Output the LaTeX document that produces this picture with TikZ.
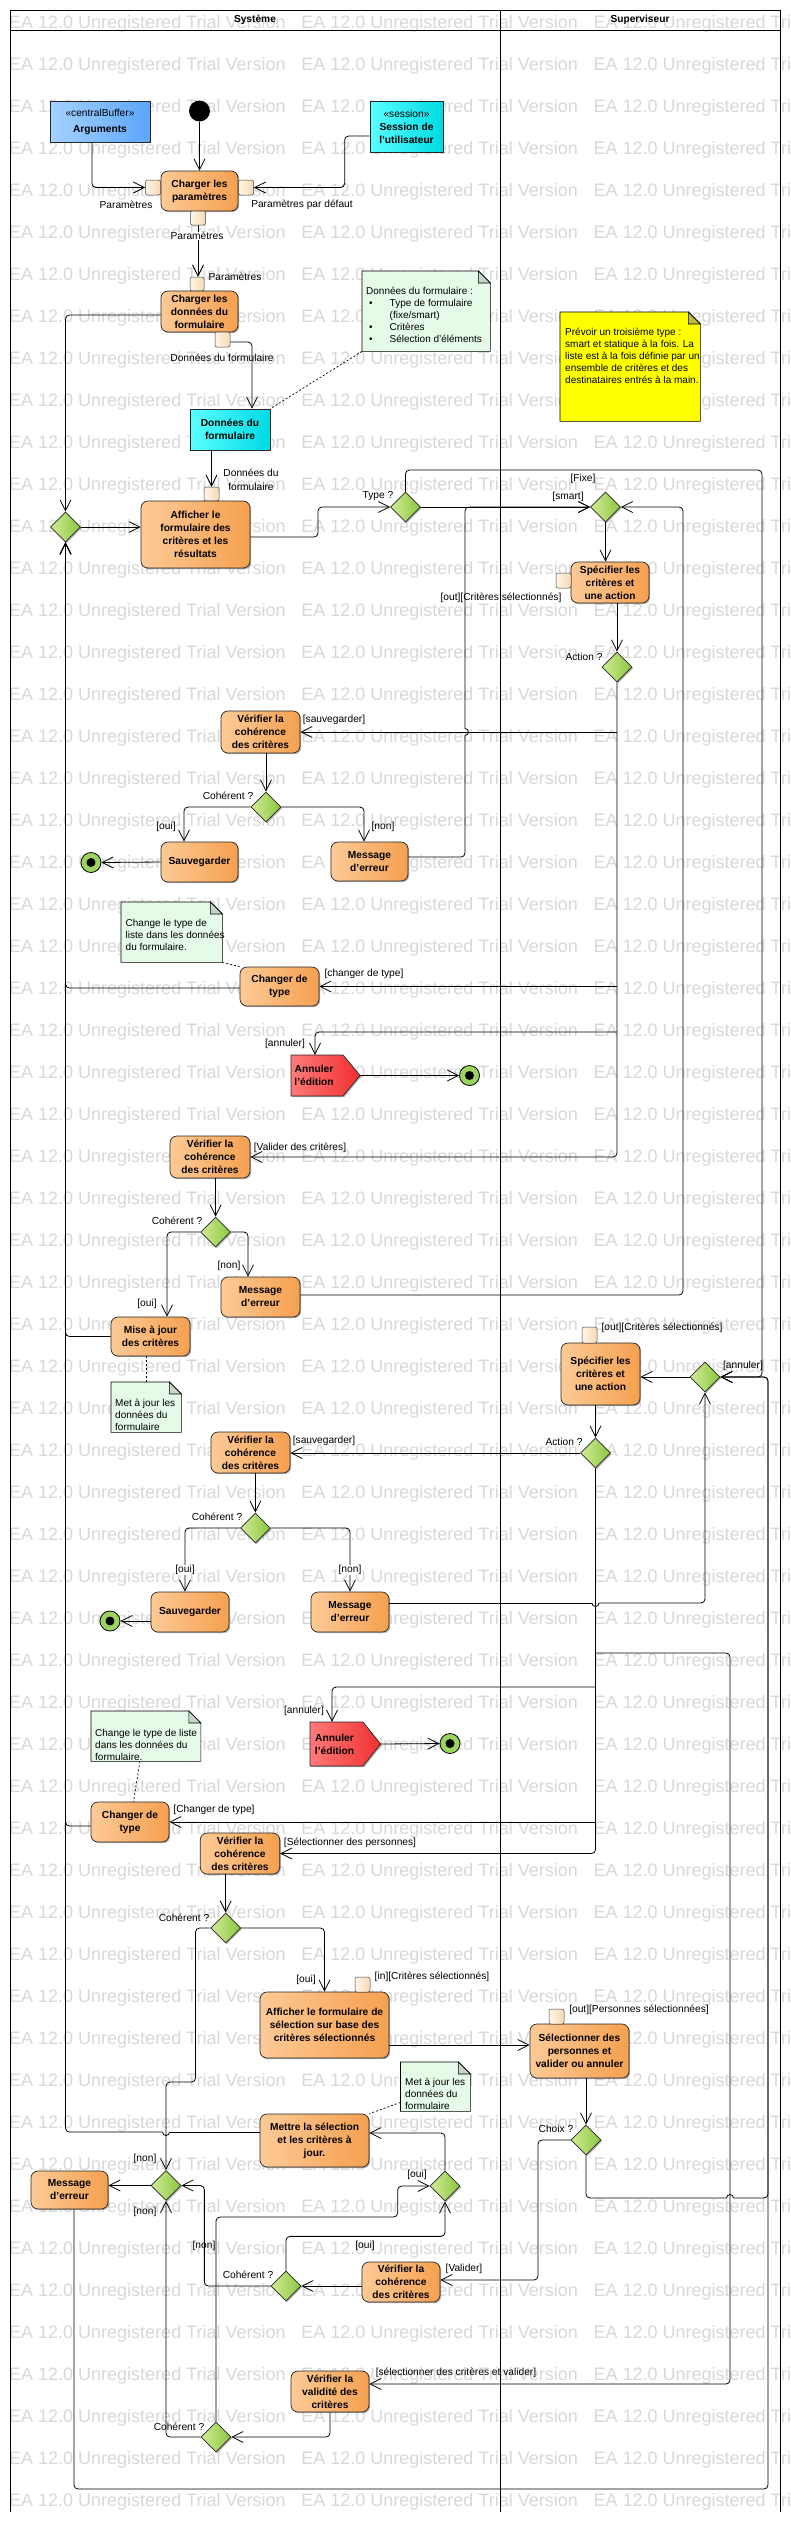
\documentclass[tikz,border=0pt]{standalone}
\usepackage{fontspec}
\setmainfont{Liberation Sans}
\usetikzlibrary{arrows.meta,shapes.geometric,calc,shadows}
\definecolor{actL}{RGB}{253,202,150}
\definecolor{actR}{RGB}{245,160,80}
\definecolor{pinL}{RGB}{255,246,230}
\definecolor{pinR}{RGB}{246,218,180}
\definecolor{diaL}{RGB}{208,236,150}
\definecolor{diaR}{RGB}{140,198,63}
\definecolor{finG}{RGB}{155,211,95}
\definecolor{annL}{RGB}{255,122,122}
\definecolor{annR}{RGB}{240,48,48}
\definecolor{cyL}{RGB}{90,255,255}
\definecolor{cyR}{RGB}{0,218,228}
\definecolor{blL}{RGB}{165,210,255}
\definecolor{blR}{RGB}{92,166,250}
\definecolor{noteG}{RGB}{230,250,232}
\definecolor{foldG}{RGB}{196,214,198}
\definecolor{noteY}{RGB}{255,255,0}
\definecolor{foldY}{RGB}{190,190,60}
\definecolor{wmark}{RGB}{216,216,216}
\newcommand{\notebody}[3]{%
 \draw[line width=0.6pt, fill=#2] (#1.north west) -- ([xshift=-12pt]#1.north east) -- ([yshift=-12pt]#1.north east) -- (#1.south east) -- (#1.south west) -- cycle;
 \draw[line width=0.6pt, fill=#3] ([xshift=-12pt]#1.north east) -- ([xshift=-12pt,yshift=-12pt]#1.north east) -- ([yshift=-12pt]#1.north east) -- cycle;}
\begin{document}
\begin{tikzpicture}[x=1pt,y=-1pt,
 lab/.style={font=\fontsize{10.2}{12}\selectfont, inner sep=0.5pt},
 labw/.style={lab, fill=white},
 hdr/.style={font=\fontsize{10.2}{12}\selectfont\bfseries, inner sep=0},
 shad/.style={drop shadow={shadow xshift=1.2pt, shadow yshift=-1.2pt, fill=black, opacity=0.3}},
 act/.style={shad, draw=black!85, line width=0.7pt, rounded corners=7pt, left color=actL, right color=actR, align=center, inner sep=1pt, font=\fontsize{10.2}{13}\selectfont\bfseries},
 obj/.style={shad, draw=black!85, line width=0.7pt, align=center, inner sep=1pt, font=\fontsize{10.2}{13}\selectfont\bfseries},
 pin/.style={draw=black!75, line width=0.5pt, rounded corners=2pt, left color=pinL, right color=pinR, minimum width=15, minimum height=15, inner sep=0},
 dia/.style={diamond, shad, draw=black!85, line width=0.7pt, left color=diaL, right color=diaR, minimum width=30, minimum height=30, inner sep=0},
 init/.style={circle, fill=black, minimum size=21, inner sep=0},
 finn/.style={circle, draw=black, line width=0.8pt, fill=finG, minimum size=20, inner sep=0, path picture={\fill[black] (path picture bounding box.center) circle[radius=4.5pt];}},
 sigtxt/.style={font=\fontsize{10.2}{13}\selectfont\bfseries, align=center, inner sep=0},
 sigpath/.style={shad, draw=black!85, line width=0.7pt, left color=annL, right color=annR},
 notebox/.style={anchor=north west, inner sep=0},
 notetxt/.style={font=\fontsize{10}{12}\selectfont, align=left, inner sep=0, anchor=west},
 line/.style={draw, line width=0.8pt, rounded corners=4pt},
 flow/.style={line, -{Straight Barb[length=11pt,width=11pt]}},
 dots/.style={draw, line width=0.7pt, dash pattern=on 2pt off 2pt},
 wm/.style={anchor=base west, inner sep=0, text=wmark, font=\fontsize{18}{18}\selectfont},
 frame/.style={draw, line width=0.8pt}
]
\useasboundingbox (0,0) rectangle (790,2522);
\fill[white] (0,0) rectangle (790,2522);
% watermark
\begin{scope}
\clip (0,0) rectangle (790,2522);
\foreach \r in {0,...,59}{
 \foreach \c in {0,1,2}{
  \node[wm] (wm-\r-\c) at ({9+292.2*\c},{28.3+42*\r}) {EA 12.0 Unregistered Trial Version};
 }}
\end{scope}
% frame
\draw[frame] (10,10) -- (780,10);
\draw[frame] (10,30.7) -- (780,30.7);
\draw[frame] (10,10) -- (10,2512);
\draw[frame] (500,10) -- (500,2512);
\draw[frame] (780,10) -- (780,2512);
\node[hdr] (hsys) at (255,20) {Système};
\node[hdr] (hsup) at (640,20) {Superviseur};

% notes
\node[notebox, minimum width=128, minimum height=80] (n1) at (362,271) {};
\notebody{n1}{noteG}{foldG}
\node[notetxt] (n1t) at (366,315) {Données du formulaire :\\\hspace*{3pt}\makebox[20.5pt][l]{•}Type de formulaire\\\hspace*{23.5pt}(fixe/smart)\\\hspace*{3pt}\makebox[20.5pt][l]{•}Critères\\\hspace*{3pt}\makebox[20.5pt][l]{•}Sélection d'éléments};
\node[notebox, minimum width=140, minimum height=109] (ny) at (560,312) {};
\notebody{ny}{noteY}{foldY}
\node[notetxt] (nyt) at (565,356) {Prévoir un troisième type :\\smart et statique à la fois. La\\liste est à la fois définie par un\\ensemble de critères et des\\destinataires entrés à la main.};
\node[notebox, minimum width=101, minimum height=60] (n2) at (121,902) {};
\notebody{n2}{noteG}{foldG}
\node[notetxt] (n2t) at (125.5,935) {Change le type de\\liste dans les données\\du formulaire.};
\node[notebox, minimum width=70, minimum height=50] (n3) at (111,1382) {};
\notebody{n3}{noteG}{foldG}
\node[notetxt] (n3t) at (115,1415) {Met à jour les\\données du\\formulaire};
\node[notebox, minimum width=109.5, minimum height=50] (n4) at (91,1711) {};
\notebody{n4}{noteG}{foldG}
\node[notetxt] (n4t) at (95,1744.5) {Change le type de liste\\dans les données du\\formulaire.};
\node[notebox, minimum width=69.5, minimum height=49] (n5) at (400.5,2062) {};
\notebody{n5}{noteG}{foldG}
\node[notetxt] (n5t) at (405,2094) {Met à jour les\\données du\\formulaire};

% nodes
\node[init] (init) at (199.5,111) {};
\node[obj, left color=blL, right color=blR, minimum width=100, minimum height=41] (args) at (100,121.5) {{\mdseries «centralBuffer»}\\[3pt]Arguments};
\node[obj, left color=cyL, right color=cyR, minimum width=73, minimum height=51] (sess) at (406.5,126.5) {{\mdseries «session»}\\Session de\\l'utilisateur};
\node[act, minimum width=77, minimum height=40] (chp) at (199.5,191) {Charger les\\paramètres};
\node[pin] (p1L) at (153,187.5) {};
\node[pin] (p1R) at (246,187.5) {};
\node[pin, minimum height=14] (p1B) at (198,218) {};
\node[pin, minimum width=14, minimum height=14] (p2T) at (197,284) {};
\node[act, minimum width=77, minimum height=41] (chd) at (199.5,311.5) {Charger les\\données du\\formulaire};
\node[pin] (p2B) at (222.5,339.5) {};
\node[obj, left color=cyL, right color=cyR, minimum width=80, minimum height=41] (dform) at (230,429.5) {Données du\\formulaire};
\node[pin, minimum height=14] (p3T) at (211.5,494) {};
\node[act, minimum width=109, minimum height=67] (aff) at (195.5,534.5) {Afficher le\\formulaire des\\critères et les\\résultats};
\node[dia] (dm1) at (65.5,527) {};
\node[dia] (dtype) at (405.5,507) {};
\node[dia] (dsmart) at (605.5,507) {};
\node[act, minimum width=78, minimum height=41] (spec1) at (610,582.5) {Spécifier les\\critères et\\une action};
\node[pin] (ps1) at (563.5,580.5) {};
\node[dia] (dact1) at (617,667) {};
\node[act, minimum width=79, minimum height=42] (ver1) at (260.5,732) {Vérifier la\\cohérence\\des critères};
\node[dia] (dc1) at (266,807) {};
\node[act, minimum width=77, minimum height=40] (sauv1) at (199.5,862) {Sauvegarder};
\node[finn] (f1) at (91,862.5) {};
\node[act, minimum width=77, minimum height=39] (msg1) at (369.5,861.5) {Message\\d'erreur};
\node[act, minimum width=79, minimum height=39] (chg1) at (279.5,986.5) {Changer de\\type};
\path[sigpath] (291,1055) -- (343,1055) -- (360,1075.5) -- (343,1096) -- (291,1096) -- cycle;
\coordinate (ann1tip) at (360,1075.5);
\node[sigtxt, minimum width=46, minimum height=41] (ann1) at (314,1075.5) {Annuler\\l'édition};
\node[finn] (f2) at (469.5,1075.5) {};
\node[act, minimum width=80, minimum height=42] (ver2) at (210,1157) {Vérifier la\\cohérence\\des critères};
\node[dia] (dc2) at (215.6,1232) {};
\node[act, minimum width=79, minimum height=40] (msg2) at (260.5,1297) {Message\\d'erreur};
\node[act, minimum width=79, minimum height=39] (maj) at (150.5,1336.5) {Mise à jour\\des critères};
\node[act, minimum width=79, minimum height=62] (spec2) at (600.5,1374) {Spécifier les\\critères et\\une action};
\node[pin, minimum height=16] (ps2) at (589.5,1335) {};
\node[dia] (dann) at (705,1377) {};
\node[dia] (dact2) at (595.5,1453) {};
\node[act, minimum width=79, minimum height=41] (ver3) at (250.5,1452.5) {Vérifier la\\cohérence\\des critères};
\node[dia] (dc3) at (255.4,1528) {};
\node[act, minimum width=78, minimum height=40] (sauv2) at (190,1612) {Sauvegarder};
\node[finn] (f3) at (110,1621) {};
\node[act, minimum width=78, minimum height=40] (msg3) at (350,1612) {Message\\d'erreur};
\path[sigpath] (310,1722) -- (363,1722) -- (380.5,1744) -- (363,1766) -- (310,1766) -- cycle;
\coordinate (ann2tip) at (380.5,1744);
\node[sigtxt, minimum width=46, minimum height=44] (ann2) at (334.5,1744) {Annuler\\l'édition};
\node[finn] (f4) at (450,1743.5) {};
\node[act, minimum width=78, minimum height=40] (chg2) at (130,1822) {Changer de\\type};
\node[act, minimum width=79.5, minimum height=41] (ver4) at (240,1853.5) {Vérifier la\\cohérence\\des critères};
\node[dia] (dc4) at (225.7,1928) {};
\node[act, minimum width=129, minimum height=66] (affsel) at (324.5,2025) {Afficher le formulaire de\\sélection sur base des\\critères sélectionnés};
\node[pin] (paff) at (362.5,1984.5) {};
\node[act, minimum width=99, minimum height=54] (selp) at (579.5,2051) {Sélectionner des\\personnes et\\valider ou annuler};
\node[pin] (psel) at (556.5,2016.5) {};
\node[dia] (dchoix) at (586,2140) {};
\node[act, minimum width=109, minimum height=53] (mettre) at (314.5,2140.5) {Mettre la sélection\\et les critères à\\jour.};
\node[dia] (doui) at (445,2186) {};
\node[dia] (dmsg) at (166,2185.5) {};
\node[act, minimum width=77, minimum height=38] (msg4) at (69.5,2190) {Message\\d'erreur};
\node[act, minimum width=78, minimum height=40] (ver5) at (401,2282) {Vérifier la\\cohérence\\des critères};
\node[dia] (dc5) at (286,2286) {};
\node[act, minimum width=78, minimum height=41] (verv) at (330,2391.5) {Vérifier la\\validité des\\critères};
\node[dia] (dc6) at (216,2437) {};

% coordinates for bends
\coordinate (y1032) at (0,1032);
\coordinate (y1687) at (0,1687);
\coordinate (y1653) at (0,1653);
\coordinate (c730) at (730,2384);
\coordinate (c538) at (538,2280);

% edges, top part
\draw[flow] (init.south) -- (chp.north);
\draw[flow] ([xshift=-8pt]args.south) |- (p1L.west);
\draw[flow] ([yshift=-9.5pt]sess.west) -- ++(-25,0) |- (p1R.east);
\draw[flow] (p1B.south) -- (p1B.south |- p2T.north);
\draw[flow] ([yshift=-2.5pt]p2B.east) -| ([xshift=22pt]dform.north);
\draw[dots] (n1.south west) -- (dform.north east);
\draw[flow] ([yshift=-3.5pt]chd.west) -| (dm1.north);
\draw[flow] (p3T.north |- dform.south) -- (p3T.north);
\draw[flow] (dm1.east) -- (dm1.east -| aff.west);
\draw[flow] ([yshift=-2.5pt]aff.east) -- (318,537) -- (318,507) -- (dtype.west);
\draw[flow] (dtype.east) -- (dsmart.west);
\draw[flow] (dtype.north) |- (762,470) |- (dann.east);
\draw[flow] (dsmart.south) -- (dsmart.south |- spec1.north);
\draw[flow] ([xshift=7pt]spec1.south) -- (dact1.north);
\draw[flow] (dact1.south) |- (ver2.east);
\draw[flow] (dact1.south |- ver1.east) -- (ver1.east);
\draw[flow] (dact1.south |- chg1.east) -- (chg1.east);
\draw[flow] (dact1.south |- y1032) -| ([xshift=1pt]ann1.north);
\draw[flow] (ann1tip) -- (f2.west);
\draw[line] ([yshift=4.5pt]msg1.east) -- (465,857) -- (465,735.5);
\draw[line] (465,735.5) arc[start angle=90,end angle=-90,radius=3.5];
\draw[flow] (465,728.5) -- (465,507) -- (dsmart.west);
\draw[flow] (dc1.north |- ver1.south) -- (dc1.north);
\draw[flow] (dc1.west) -| ([xshift=-15.5pt]sauv1.north);
\draw[flow] (dc1.east) -| ([xshift=-5.5pt]msg1.north);
\draw[flow] (sauv1.west) -- (f1.east);
\draw[dots] (n2.south east) -- (chg1.north west);
\draw[flow] ([yshift=-1.5pt]chg1.west) -| (dm1.south);
\draw[flow] (dc2.north |- ver2.south) -- (dc2.north);
\draw[flow] (dc2.west) -| ([xshift=16.5pt]maj.north);
\draw[flow] (dc2.east) -| ([xshift=-12.5pt]msg2.north);
\draw[flow] ([yshift=2pt]msg2.east) -| (683,507) -- (dsmart.east);
\draw[flow] (maj.west) -| (dm1.south);
\draw[dots] (n3.north |- maj.south) -- (n3.north);

% middle part
\draw[flow] (dann.west) -- (dann.west -| spec2.east);
\draw[flow] (dact2.north |- spec2.south) -- (dact2.north);
\draw[flow] (dact2.west) -- (dact2.west -| ver3.east);
\draw[flow] (dact2.south) |- (ver4.east);
\draw[flow] (dact2.south |- y1687) -| ([xshift=-2.5pt]ann2.north);
\draw[flow] (dact2.south |- chg2.east) -- (chg2.east);
\draw[flow] (dact2.south |- y1653) -| (c730) -- (c730 -| verv.east);
\draw[flow] (ann2tip) -- (f4.west);
\draw[flow] (dc3.north |- ver3.south) -- (dc3.north);
\draw[flow] (dc3.west) -| ([xshift=-5pt]sauv2.north);
\draw[flow] (dc3.east) -| (msg3.north);
\draw[flow] ([yshift=-9pt]sauv2.west) -- (f3.east);
\draw[line] ([yshift=9pt]msg3.east) -- (592,1603);
\draw[line] (592,1603) arc[start angle=180,end angle=0,radius=3.5];
\draw[flow] (599,1603) -| (dann.south);
\draw[dots] ([xshift=-6pt]n4.south) -- ([xshift=3.5pt]chg2.north);
\draw[flow] ([yshift=-4pt]chg2.west) -| (dm1.south);

% bottom part
\draw[flow] (dc4.north |- ver4.south) -- (dc4.north);
\draw[flow] (dc4.east) -| (affsel.north);
\draw[flow] (dc4.west) -| (195.5,2082) -| (dmsg.north);
\draw[flow] ([yshift=-20pt]affsel.east) -- ([yshift=-20pt]affsel.east -| selp.west);
\draw[flow] (dchoix.north |- selp.south) -- (dchoix.north);
\draw[flow] (dchoix.west) -| (c538) -- (c538 -| ver5.east);
\draw[line] (dchoix.south) |- (726.5,2198);
\draw[line] (726.5,2198) arc[start angle=180,end angle=360,radius=3.5];
\draw[flow] (733.5,2198) -| (768,1377) -- (dann.east);
\draw[dots] ([yshift=9pt]n5.south west) -- (mettre.north east);
\draw[line] ([yshift=8.5pt]mettre.west) -- (169.5,2132);
\draw[line] (169.5,2132) arc[start angle=0,end angle=180,radius=3.5];
\draw[flow] (162.5,2132) -| (dm1.south);
\draw[flow] (doui.north) |- ([yshift=7.5pt]mettre.east);
\draw[flow] (dmsg.west) -- (dmsg.west -| msg4.east);
\draw[flow] ([xshift=4.5pt]msg4.south) |- (768,2489) |- (dann.east);
\draw[flow] (ver5.west |- dc5.east) -- (dc5.east);
\draw[flow] (dc5.west) -| ([xshift=23pt]dmsg.east) -- (dmsg.east);
\draw[flow] (dc5.north) |- ([yshift=-35pt]doui.south) -- (doui.south);
\draw[flow] (dc6.north) |- ([xshift=-32pt,yshift=-31pt]doui.west) |- (doui.west);
\draw[flow] (verv.south) |- (dc6.east);
\draw[flow] (dc6.west) -| (dmsg.south);

% labels
\node[lab] (lpar1) at (126,205) {Paramètres};
\node[lab] (lpar2) at (302,205) {Paramètres par défaut};
\node[labw] (lpar3) at (197,236) {Paramètres};
\node[lab] (lpar4) at (235,277) {Paramètres};
\node[lab] (ldf1) at (222,358) {Données du formulaire};
\node[lab, align=center, font=\fontsize{10.2}{14}\selectfont] (ldf2) at (251,480) {Données du\\formulaire};
\node[lab] (ltype) at (378,496) {Type ?};
\node[lab] (lsmart) at (568,497) {[smart]};
\node[lab] (lfixe) at (583,479) {[Fixe]};
\node[lab] (lout1) at (501,598) {[out][Critères sélectionnés]};
\node[lab] (lact1) at (584,657) {Action ?};
\node[lab] (lsauv1) at (334,720) {[sauvegarder]};
\node[lab] (lcoh1) at (228,796) {Cohérent ?};
\node[lab] (loui1) at (166,827) {[oui]};
\node[lab] (lnon1) at (383,827) {[non]};
\node[lab] (lchg1) at (364,974) {[changer de type]};
\node[lab] (lann1) at (285,1044) {[annuler]};
\node[lab] (lval) at (300,1148) {[Valider des critères]};
\node[lab] (lcoh2) at (177,1221) {Cohérent ?};
\node[lab] (lnon2) at (229,1266) {[non]};
\node[lab] (loui2) at (147,1304) {[oui]};
\node[lab] (lout2) at (662,1328) {[out][Critères sélectionnés]};
\node[lab] (lann) at (743,1366) {[annuler]};
\node[lab] (lsauv2) at (324,1441) {[sauvegarder]};
\node[lab] (lact2) at (564,1442) {Action ?};
\node[lab] (lcoh3) at (217,1517) {Cohérent ?};
\node[labw] (loui3) at (185,1570) {[oui]};
\node[labw] (lnon3) at (350,1570) {[non]};
\node[lab] (lann2) at (304,1711) {[annuler]};
\node[lab] (lchg2) at (214,1810) {[Changer de type]};
\node[lab] (lsel) at (350,1843) {[Sélectionner des personnes]};
\node[lab] (lcoh4) at (184,1918) {Cohérent ?};
\node[lab] (lin) at (432,1977) {[in][Critères sélectionnés]};
\node[lab] (loui4) at (306,1980) {[oui]};
\node[lab] (lpers) at (639,2010) {[out][Personnes sélectionnées]};
\node[lab] (lchoix) at (556,2129) {Choix ?};
\node[lab] (lnon4) at (145,2159) {[non]};
\node[lab] (loui5) at (417,2175) {[oui]};
\node[lab] (lnon6) at (145,2212) {[non]};
\node[lab] (lnon5) at (204,2246) {[non]};
\node[lab] (loui6) at (365,2246) {[oui]};
\node[lab] (lvalider) at (464,2269) {[Valider]};
\node[lab] (lcoh5) at (248,2275) {Cohérent ?};
\node[lab] (lscv) at (456,2373) {[sélectionner des critères et valider]};
\node[lab] (lcoh6) at (179,2427) {Cohérent ?};
\end{tikzpicture}
\end{document}
